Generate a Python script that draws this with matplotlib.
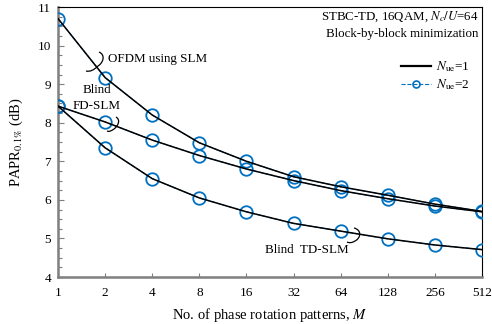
import matplotlib.pyplot as plt
from matplotlib.lines import Line2D
from matplotlib.path import Path
from matplotlib.patches import PathPatch
from matplotlib.ticker import FixedLocator, MultipleLocator, NullFormatter

plt.rcParams['font.family'] = ['Liberation Serif', 'DejaVu Serif']
plt.rcParams['mathtext.fontset'] = 'stix'

# ── data ─────────────────────────────────────────────────────────────────────
M = [1, 2, 4, 8, 16, 32, 64, 128, 256, 512]
ofdm_slm = [10.7, 9.17, 8.2, 7.48, 7.0, 6.6, 6.34, 6.12, 5.89, 5.70]
fd_slm   = [8.43, 8.02, 7.55, 7.15, 6.80, 6.50, 6.24, 6.03, 5.84, 5.69]
td_slm   = [8.43, 7.35, 6.55, 6.05, 5.69, 5.39, 5.19, 4.99, 4.83, 4.71]
xticklabels = ['1', '2', '4', '8', '16', '32', '64', '128', '256', '512']

BLUE = '#0070C0'
GREY = '#7f7f7f'

fig = plt.figure(figsize=(4.92, 3.24), dpi=100)
ax = fig.add_axes([58/492, 1-277/324, (482-58)/492, (277-7)/324])

for ys in (ofdm_slm, fd_slm, td_slm):
    ax.plot(M, ys, ls='--', color=BLUE, lw=0.8, marker='o', ms=9,
            mfc='none', mec=BLUE, mew=1.3, zorder=3)
    ax.plot(M, ys, ls='-', color='black', lw=1.1, zorder=4)

ax.set_xscale('log', base=2)
ax.set_xlim(1, 512)
ax.set_ylim(4, 11)
ax.xaxis.set_major_locator(FixedLocator(M))
ax.set_xticklabels(xticklabels)
ax.xaxis.set_minor_formatter(NullFormatter())
ax.xaxis.set_minor_locator(FixedLocator([]))
ax.yaxis.set_major_locator(MultipleLocator(1))
ax.yaxis.set_minor_locator(MultipleLocator(0.25))

ax.tick_params(axis='both', which='both', direction='in', color=GREY,
               labelsize=9.5, pad=7, width=0.8)
ax.tick_params(axis='x', which='major', length=3)
ax.tick_params(axis='y', which='major', length=4, pad=5)
ax.tick_params(axis='y', which='minor', length=3)

for s in ('left', 'bottom'):
    ax.spines[s].set_color(GREY)
    ax.spines[s].set_linewidth(1.8)
for s in ('top', 'right'):
    ax.spines[s].set_color('black')
    ax.spines[s].set_linewidth(0.8)

ax.set_ylabel(r'PAPR$_{0.1\%}$ (dB)', fontsize=10.5, labelpad=9)
ax.set_xlabel(r'No. of phase rotation patterns, $\mathit{M}$', fontsize=10.5, labelpad=5)

# ── annotations (figure pixel positions) ─────────────────────────────────────
def px(x, y):
    return x / 492, 1 - y / 324

fig.text(*px(108, 59), 'OFDM using SLM', fontsize=9.4, ha='left', va='center')
fig.text(*px(97, 90), 'Blind', fontsize=9.4, ha='center', va='center')
fig.text(*px(97, 106), 'FD-SLM', fontsize=9.4, ha='center', va='center')
fig.text(*px(265, 250), 'Blind  TD-SLM', fontsize=9.4, ha='left', va='center')
fig.text(*px(478, 17), r'STBC-TD, 16QAM, $\mathit{N_c/U}$=64', fontsize=9.3,
         ha='right', va='center')
fig.text(*px(478, 34), 'Block-by-block minimization', fontsize=9.3,
         ha='right', va='center')

def bracket(pts):
    verts = [px(x, y) for x, y in pts]
    codes = [Path.MOVETO] + [Path.CURVE4] * (len(verts) - 1)
    fig.patches.append(PathPatch(Path(verts, codes), transform=fig.transFigure,
                                 fill=False, lw=0.9, color='black'))

bracket([(99, 52), (106, 55), (103, 63), (98, 66),
         (94, 70), (90, 72), (86, 71)])
bracket([(116, 117), (121, 120), (118, 126), (114, 129),
         (111, 131), (109, 132), (107, 131)])
bracket([(354, 228), (362, 230), (361, 238), (355, 241),
         (352, 243), (349, 243), (347, 242)])

handles = [Line2D([], [], color='black', lw=1.6),
           Line2D([], [], color=BLUE, lw=0.8, ls='--', marker='o', ms=5,
                  mfc='none', mec=BLUE, mew=1.2)]
ax.legend(handles, [r'$\mathit{N}_{\rm ue}$=1', r'$\mathit{N}_{\rm ue}$=2'],
          loc='upper right', bbox_to_anchor=(1.0, 0.85), frameon=False,
          fontsize=9.5, handlelength=2.3, handletextpad=0.4, labelspacing=0.25)

fig.savefig('out.png', dpi=100)
